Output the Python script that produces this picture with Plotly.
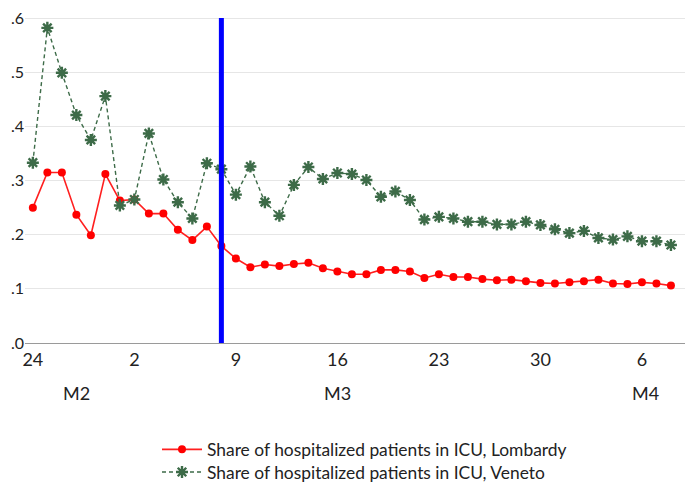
import pandas as pd
import plotly.graph_objects as go

# Daily observations, 24 Feb 2020 to 8 Apr 2020
dates = pd.date_range("2020-02-24", "2020-04-08", freq="D")

lombardy = [0.250, 0.315, 0.315, 0.237, 0.199, 0.312, 0.263, 0.265, 0.239, 0.239,
            0.209, 0.190, 0.215, 0.179, 0.156, 0.140, 0.145, 0.142, 0.146, 0.148,
            0.138, 0.132, 0.127, 0.127, 0.135, 0.135, 0.132, 0.120, 0.127, 0.122,
            0.122, 0.118, 0.116, 0.117, 0.114, 0.111, 0.110, 0.112, 0.114, 0.117,
            0.110, 0.109, 0.112, 0.110, 0.106]

veneto = [0.333, 0.582, 0.499, 0.421, 0.375, 0.456, 0.254, 0.265, 0.387, 0.302,
          0.260, 0.230, 0.332, 0.321, 0.274, 0.326, 0.260, 0.235, 0.292, 0.325,
          0.303, 0.314, 0.312, 0.301, 0.270, 0.280, 0.264, 0.228, 0.233, 0.230,
          0.224, 0.224, 0.219, 0.219, 0.224, 0.218, 0.210, 0.203, 0.207, 0.194,
          0.191, 0.197, 0.188, 0.188, 0.181]

lockdown_date = "2020-03-08"

x_tick_dates = ["2020-02-24", "2020-03-02", "2020-03-09", "2020-03-16",
                "2020-03-23", "2020-03-30", "2020-04-06"]
x_tick_text = ["24", "2", "9", "16", "23", "30", "6"]

y_tick_vals = [0.0, 0.1, 0.2, 0.3, 0.4, 0.5, 0.6]
y_tick_text = [".0", ".1", ".2", ".3", ".4", ".5", ".6"]

month_labels = ["M2", "M3", "M4"]
month_label_dates = ["2020-02-27", "2020-03-16", "2020-04-06 06:00"]

FONT = "Lato"

fig = go.Figure()

fig.add_trace(go.Scatter(
    x=dates, y=lombardy, mode="lines+markers",
    name="Share of hospitalized patients in ICU, Lombardy",
    legend="legend",
    line=dict(color="#ff1f1f", width=1.6),
    marker=dict(symbol="circle", size=8, color="#ff0000"),
))

fig.add_trace(go.Scatter(
    x=dates, y=veneto, mode="lines+markers",
    name="Share of hospitalized patients in ICU, Veneto",
    legend="legend2",
    line=dict(color="#3d6b48", width=1.4, dash="4px,3px"),
    marker=dict(symbol="asterisk-open", size=10,
                line=dict(color="#18821f", width=2.4)),
))

# vertical marker for the lockdown date
fig.add_shape(type="line", xref="x", yref="y",
              x0=lockdown_date, x1=lockdown_date, y0=0, y1=0.6,
              line=dict(color="#0000ff", width=5), layer="above")

for label, d in zip(month_labels, month_label_dates):
    fig.add_annotation(x=d, xref="x", y=-0.15, yref="paper",
                       text=label, showarrow=False, yanchor="middle",
                       font=dict(family=FONT, size=18, color="#222222"))

start = pd.Timestamp(dates[0])
x_lo = start - pd.Timedelta(hours=13)
x_hi = start + pd.Timedelta(days=44.97)

legend_style = dict(xanchor="left", yanchor="middle",
                    font=dict(family=FONT, size=17.4, color="#222222"),
                    itemwidth=40, bgcolor="rgba(0,0,0,0)")

fig.update_layout(
    width=696, height=498,
    margin=dict(l=25, r=11, t=8, b=150),
    paper_bgcolor="white", plot_bgcolor="white",
    font=dict(family=FONT, size=16, color="#222222"),
    showlegend=True,
    legend=dict(x=0.2, y=-0.32, **legend_style),
    legend2=dict(x=0.2, y=-0.388, **legend_style),
    xaxis=dict(range=[x_lo, x_hi], tickvals=x_tick_dates, ticktext=x_tick_text,
               showgrid=False, showline=True, linecolor="#9a9a9a", linewidth=1,
               ticks="", zeroline=False,
               tickfont=dict(family=FONT, size=18, color="#222222")),
    yaxis=dict(range=[0, 0.615], tickvals=y_tick_vals, ticktext=y_tick_text,
               showgrid=True, gridcolor="#e6e6e6", gridwidth=1,
               zeroline=False, showline=False, ticks="",
               tickfont=dict(family=FONT, size=16, color="#222222")),
)

fig.write_html("out.html")
